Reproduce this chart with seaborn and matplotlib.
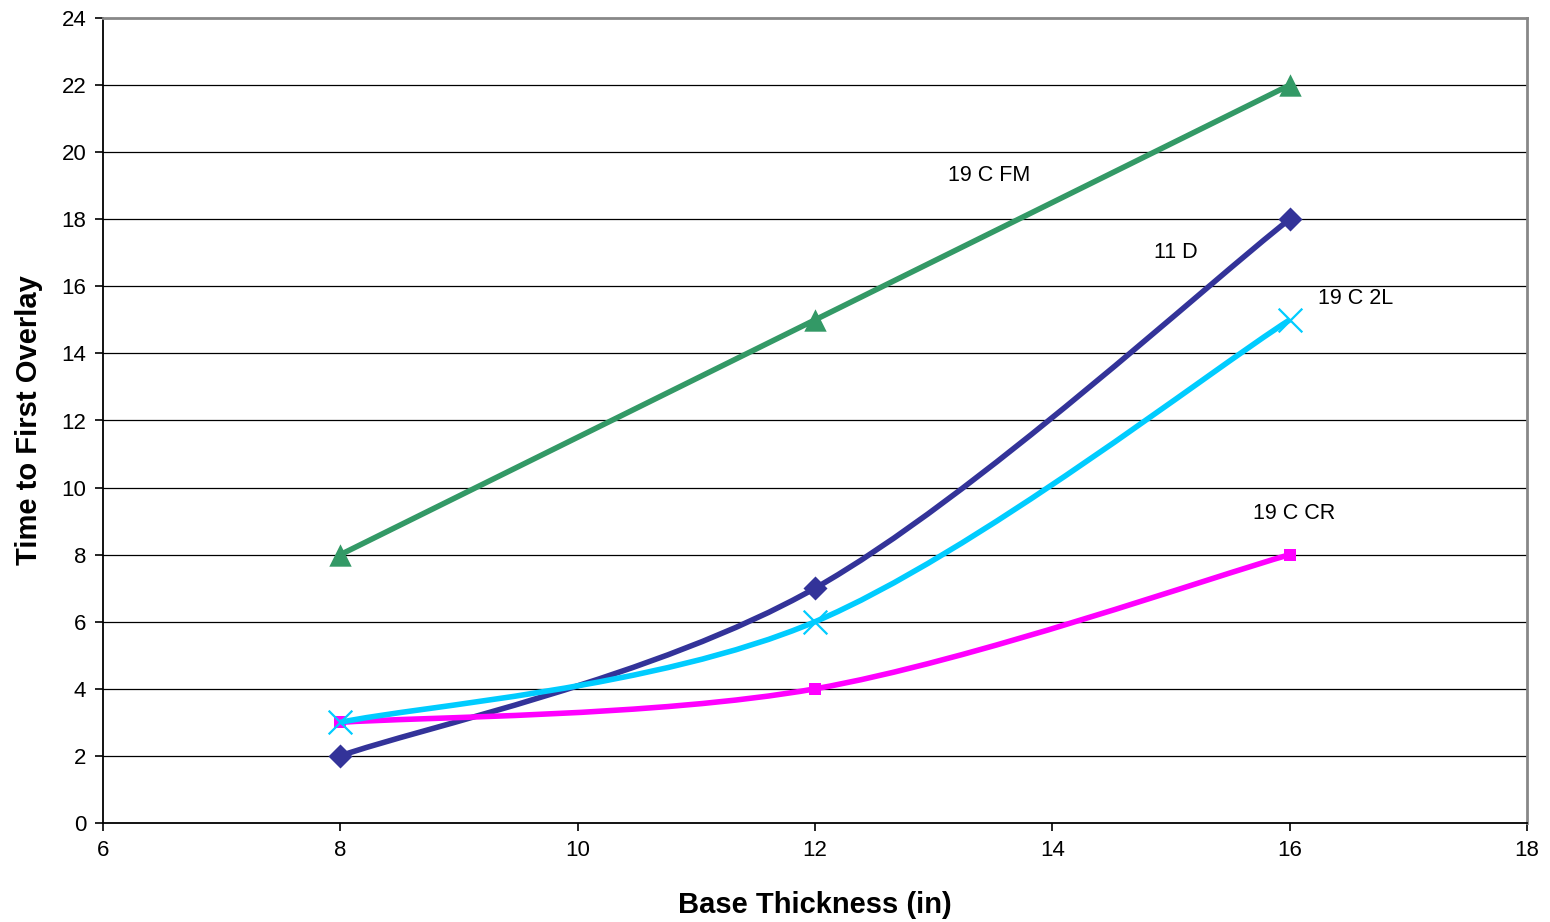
import numpy as np
import pandas as pd
import matplotlib
matplotlib.use("Agg")
import matplotlib.pyplot as plt
from matplotlib.path import Path
from matplotlib.patches import PathPatch
import seaborn as sns

# ---- data ----
thickness = [8, 12, 16]
series_names = ["11 D", "19 C CR", "19 C 2L", "19 C FM"]
d11 = [2, 7, 18]
c19_cr = [3, 4, 8]
c19_2l = [3, 6, 15]
c19_fm = [8, 15, 22]
x_ticks = [6, 8, 10, 12, 14, 16, 18]
y_ticks = [0, 2, 4, 6, 8, 10, 12, 14, 16, 18, 20, 22, 24]

colors = {"11 D": "#333399", "19 C CR": "#FF00FF", "19 C 2L": "#00CCFF", "19 C FM": "#339966"}
markers = {"11 D": "D", "19 C CR": "s", "19 C 2L": "x", "19 C FM": "^"}
msizes = {"11 D": 150, "19 C CR": 80, "19 C 2L": 290, "19 C FM": 260}
values = {"11 D": d11, "19 C CR": c19_cr, "19 C 2L": c19_2l, "19 C FM": c19_fm}
label_pos = {"11 D": (15.04, 17.0), "19 C CR": (16.04, 9.24), "19 C 2L": (16.56, 15.65), "19 C FM": (13.47, 19.3)}

df = pd.DataFrame([(n, x, y) for n in series_names for x, y in zip(thickness, values[n])],
                  columns=["series", "x", "y"])

sns.set_theme(style="white")
plt.rcParams['font.family'] = ['Liberation Sans', 'DejaVu Sans']

fig = plt.figure(figsize=(15.5, 9.22), dpi=100)
ax = fig.add_axes([103 / 1550, 1 - 823 / 922, 1424 / 1550, 805 / 922])


def smooth_path(xs, ys):
    # Excel-style smoothed line: cubic Bezier through the points (Catmull-Rom, tension 1/6)
    pts = np.column_stack([xs, ys]).astype(float)
    n = len(pts)
    verts = [pts[0]]
    codes = [Path.MOVETO]
    for i in range(n - 1):
        p0 = pts[i - 1] if i > 0 else pts[i]
        p1 = pts[i]
        p2 = pts[i + 1]
        p3 = pts[i + 2] if i + 2 < n else pts[i + 1]
        c1 = p1 + (p2 - p0) / 6.0
        c2 = p2 - (p3 - p1) / 6.0
        verts += [c1, c2, p2]
        codes += [Path.CURVE4] * 3
    return Path(verts, codes)


for i, name in enumerate(series_names):
    sub = df[df.series == name]
    patch = PathPatch(smooth_path(sub.x.values, sub.y.values), facecolor="none",
                      edgecolor=colors[name], lw=4.0, capstyle="butt", joinstyle="round",
                      zorder=3 + i)
    ax.add_patch(patch)
    kw = dict(linewidths=1.6) if markers[name] == "x" else dict(linewidth=0)
    sns.scatterplot(data=sub, x="x", y="y", ax=ax, marker=markers[name], s=msizes[name],
                    color=colors[name], zorder=3.5 + i, legend=False, **kw)
    lx, ly = label_pos[name]
    ax.text(lx, ly, name, fontsize=15.5, ha="center", va="center", color="black")

ax.set_xlim(6, 18)
ax.set_ylim(0, 24)
ax.set_xticks(x_ticks)
ax.set_yticks(y_ticks)
ax.set_xticklabels([str(t) for t in x_ticks])
ax.set_yticklabels([str(t) for t in y_ticks])

for y in y_ticks[1:-1]:
    ax.axhline(y, color="black", lw=0.9, zorder=1)

for s in ["left", "bottom"]:
    ax.spines[s].set_color("black")
    ax.spines[s].set_linewidth(1.3)
for s in ["top", "right"]:
    ax.spines[s].set_color("#888888")
    ax.spines[s].set_linewidth(2)

ax.tick_params(axis="both", which="major", direction="out", length=6, width=1.2,
               color="black", labelsize=16, labelcolor="black",
               bottom=True, left=True, pad=6)

ax.set_xlabel("Base Thickness (in)", fontsize=21, fontweight="bold", labelpad=22, color="black")
ax.set_ylabel("Time to First Overlay", fontsize=21, fontweight="bold", labelpad=13, color="black")

fig.savefig("out.png", dpi=100, facecolor="white")
